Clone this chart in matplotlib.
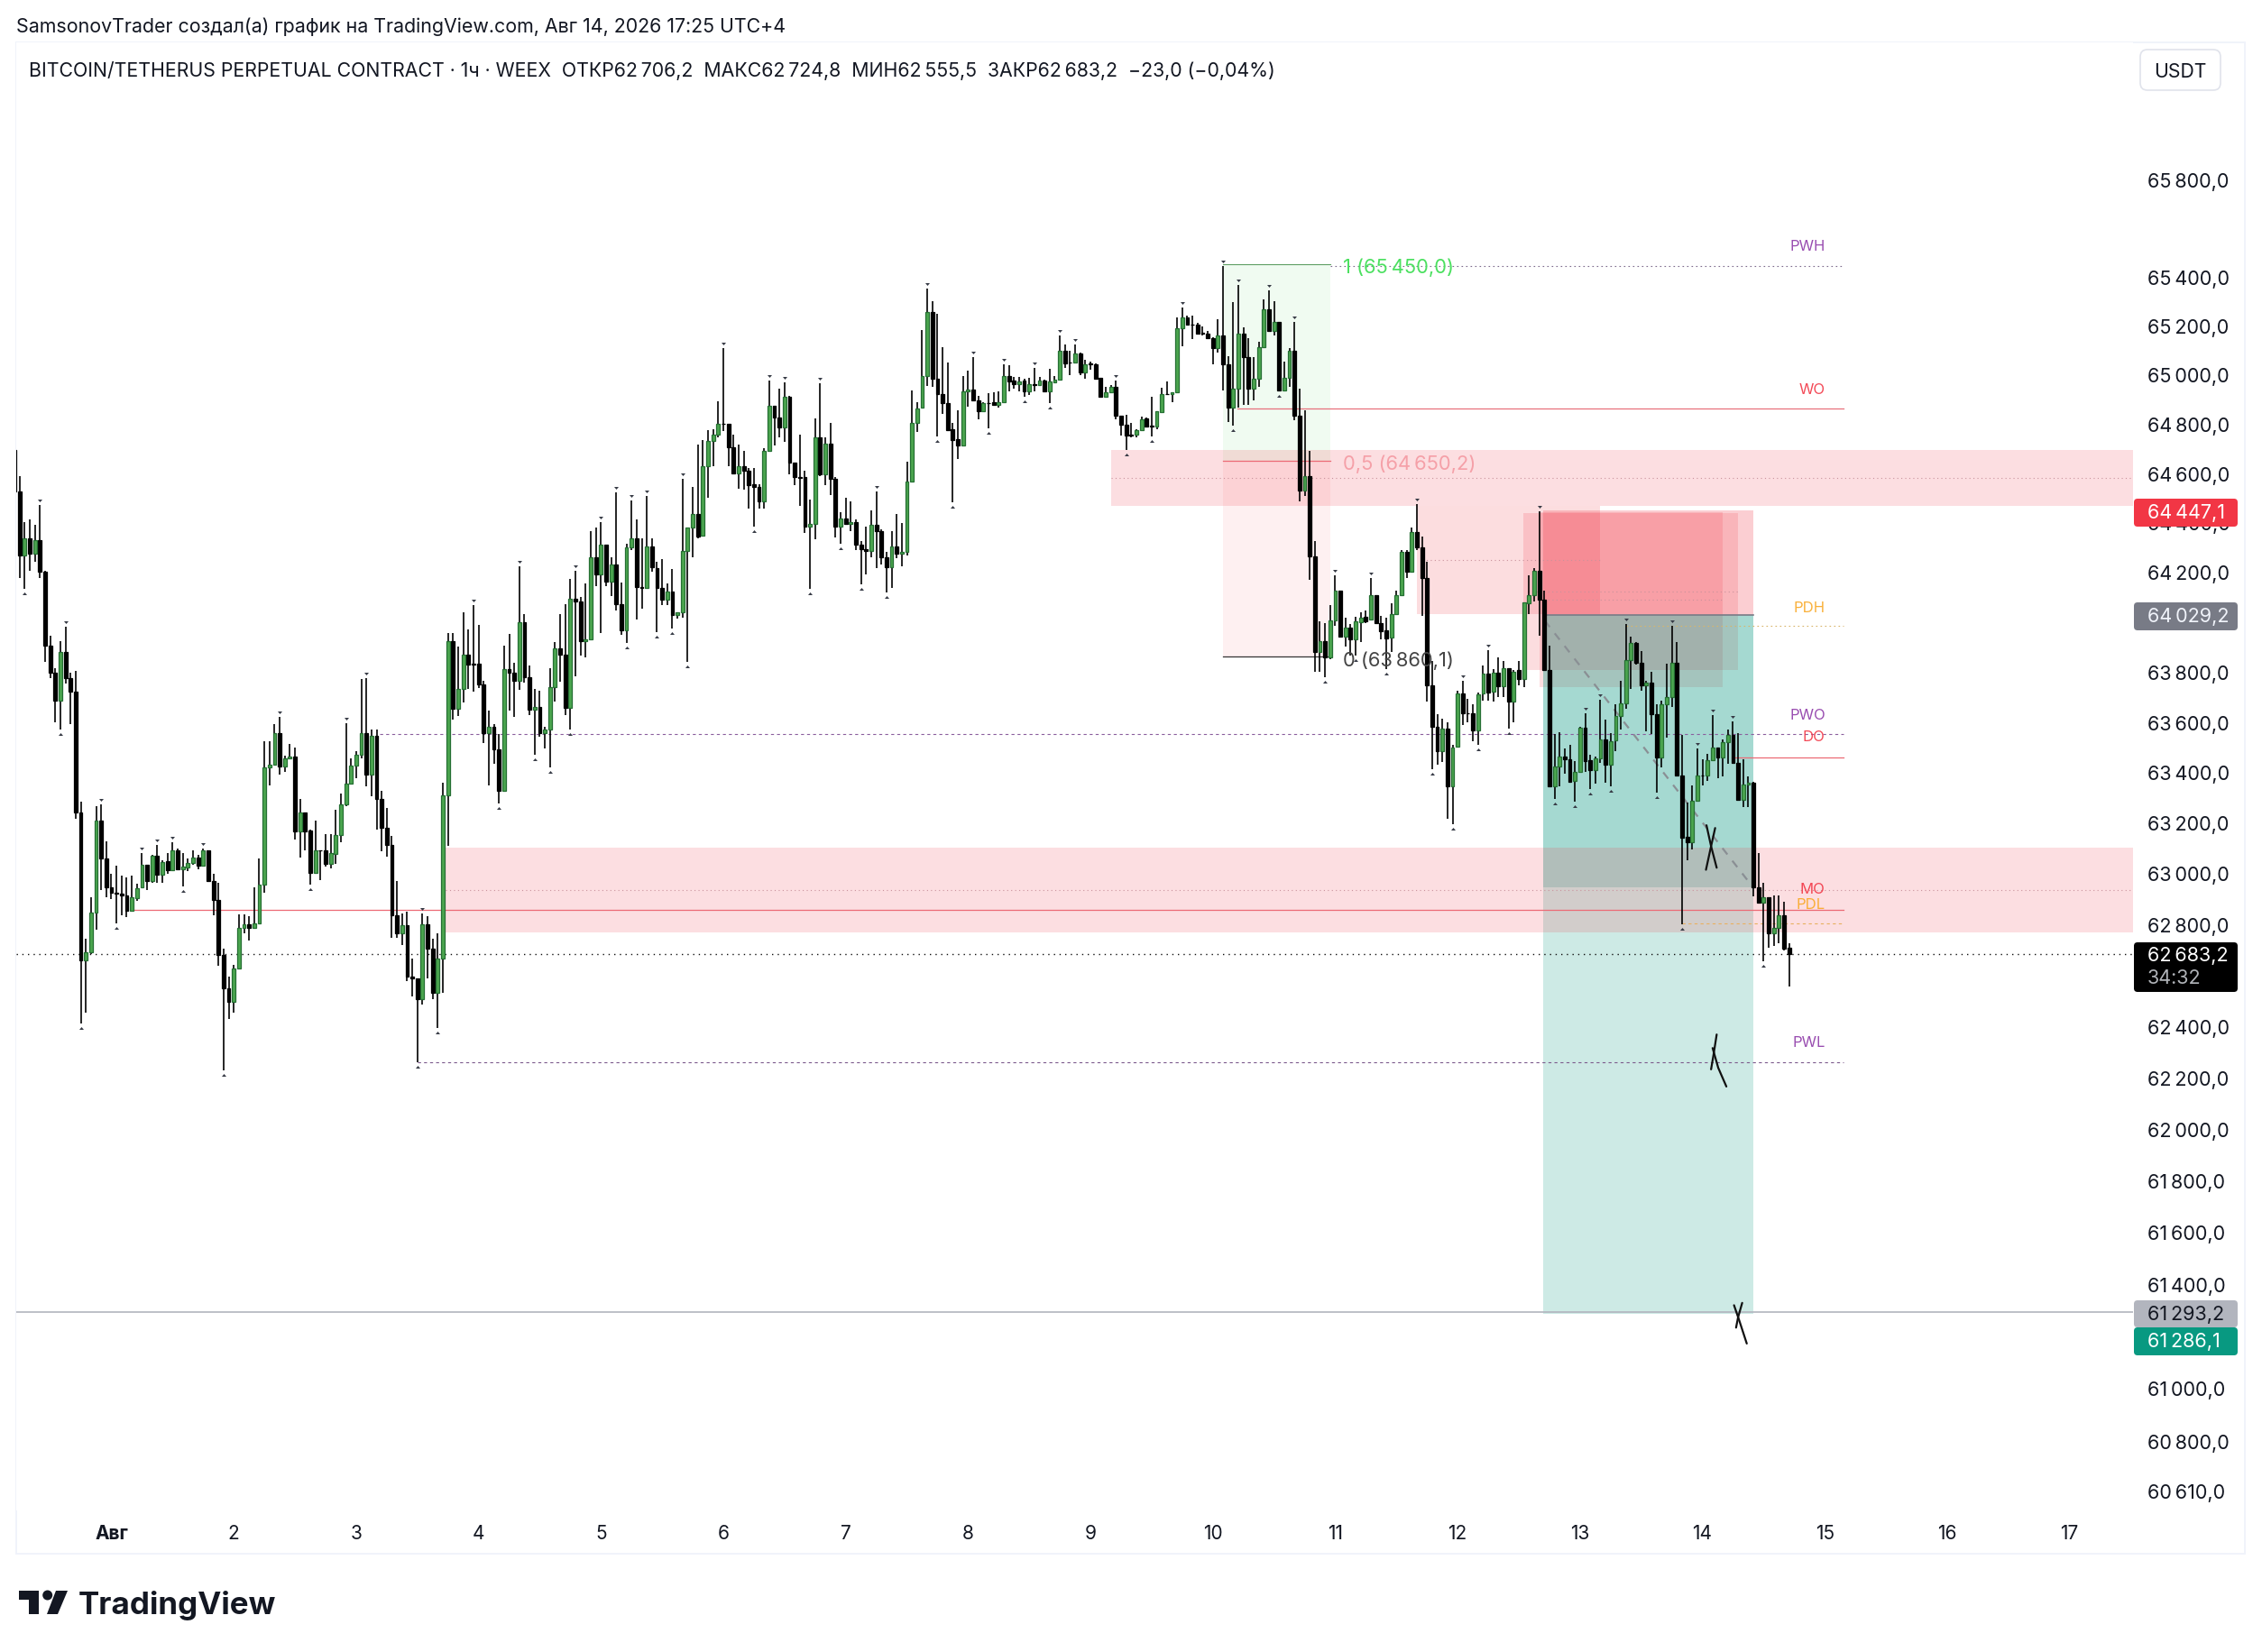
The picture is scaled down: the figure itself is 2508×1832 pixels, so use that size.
import matplotlib
matplotlib.use("Agg")
import matplotlib.pyplot as plt
from matplotlib.patches import Rectangle, FancyBboxPatch, Polygon, Circle
from matplotlib.ticker import NullLocator, NullFormatter
from matplotlib.transforms import offset_copy, IdentityTransform
from matplotlib.path import Path
import math

plt.rcParams['font.family'] = ['Inter', 'DejaVu Sans']

W, H = 2508, 1833

# ---------- data: hourly candles, first candle is hour -19 relative to Aug 1 00:00 ----------
first_hour = -19
directions = ("BBGBGBBBBGBBBBGGGBB"
    "BBBBGGGBGBGBGBGGGBGBBBBB" "GGGBGGGGGBGGBGBBGBBGGGGG" "GGBGBBBBBGBBBGBBGGGBGGBB"
    "BBGBBGBBGBBGBGGGBBGBBGGB" "GBGBBGGBBGBBBGBGGGGBGGGG" "BBBGBBBBGGBBGBBBBGGBGBBG"
    "BGBBBGBBBGBGGGGGGBBBBBBG" "GBBGBBGGBBGBGBGBGGGBBGBG" "BBBGGBBBBGGBBGGBGGGBBBBB"
    "BGBBGGBBGGGBGBGGBBGBBGBG" "GBGBGGBGBBBGGGBGBBBBBGBG" "GBBBGGBGBGBGBGGGBBBGGBBG"
    "GBBGGBGGGGGBBGBBGGGBBBGG" "BGGBGGBBGGBBGBGGBB")
highs = [
 64695,64589,64402,64413,64391,64472,64207,63944,63814,63922,63980,63797,63803,63285,62743,62906,63264,63274,63125,
 62998,63030,62991,62985,62991,62960,63081,63034,63072,63113,63051,63081,63123,63098,63081,63059,63091,63072,63098,63091,62998,62964,62704,62592,
 62641,62838,62838,62832,62943,63059,63522,63522,63591,63619,63466,63511,63500,63295,63242,63172,63208,63091,63155,63155,63251,63317,63596,63455,
 63483,63771,63775,63570,63570,63325,63257,63147,62970,62843,62847,62666,62588,62843,62832,62743,62764,63360,63954,63954,63900,64039,63970,64067,
 63987,63764,63645,63591,63552,63905,63953,63836,64225,64030,63825,63732,63725,63580,63814,63920,64030,64073,64173,64207,64099,64153,64365,64380,
 64402,64309,64261,64523,64160,64316,64490,64413,64337,64508,64337,64240,64251,64153,64214,64039,64578,64380,64545,64714,64732,64772,64776,64890,
 65106,64800,64754,64714,64688,64622,64622,64556,64699,64974,64873,64941,64967,64912,64642,64754,64611,64494,64820,64963,64743,64802,64583,64442,
 64501,64486,64413,64326,64385,64450,64527,64374,64283,64365,64435,64398,64644,64934,64886,65183,65351,65299,65246,65110,65047,64802,64854,64995,
 65015,65071,64914,64886,64924,64928,64931,65043,65036,64991,64991,64981,64987,65026,64991,64980,65022,64995,65159,65121,65096,65124,65090,65061,
 65054,65044,64987,64949,64956,64977,64834,64837,64802,64777,64830,64826,64910,64851,64945,64973,64927,65233,65275,65239,65239,65211,65197,65177,
 65152,65226,65442,65075,65296,65366,65191,65149,65072,65135,65306,65345,65299,65215,65054,65106,65215,64942,64854,64690,64326,64001,63997,64067,
 64186,64124,64018,63990,64021,64039,64046,64175,64108,64025,64017,64075,64127,64289,64290,64380,64475,64345,64241,63843,63630,63614,63598,63508,
 63725,63764,63693,63669,63717,63827,63887,63811,63859,63843,63816,63808,63844,64077,64188,64218,64444,64126,63905,63553,63560,63494,63508,63443,
 63580,63635,63471,63464,63690,63611,63557,63670,63763,63992,63940,63919,63885,63766,63800,63670,63686,63834,63985,63920,63549,63279,63347,63495,
 63450,63474,63628,63498,63532,63569,63601,63557,63453,63382,63361,63080,62963,62905,62913,62911,62888,62724.8]
body_tops = [
 64695,64527,64337,64337,64328,64328,64203,63905,63797,63881,63881,63775,63721,63240,62690,62845,63208,63208,63059,
 62943,62923,62919,62913,62904,62940,63034,63034,63070,63070,63045,63047,63091,63091,63025,63042,63062,63062,63091,63091,62970,62896,62679,62549,
 62624,62785,62798,62798,62802,62955,63418,63429,63554,63554,63455,63463,63463,63242,63242,63170,63091,63091,63091,63079,63151,63272,63356,63425,
 63470,63554,63554,63544,63544,63293,63179,63113,62836,62796,62796,62592,62588,62800,62800,62704,62664,63310,63922,63922,63732,63868,63868,63833,
 63833,63751,63580,63580,63492,63812,63812,63797,64000,64000,63779,63660,63660,63570,63738,63894,63894,63868,64093,64093,64082,63931,64261,64261,
 64309,64309,64229,64229,64071,64298,64335,64335,64140,64303,64303,64218,64136,64121,64121,64039,64287,64378,64435,64435,64626,64730,64754,64798,
 64800,64798,64703,64626,64626,64611,64554,64545,64688,64873,64873,64824,64908,64910,64642,64583,64583,64395,64743,64743,64719,64719,64578,64417,
 64417,64402,64402,64309,64292,64389,64389,64365,64259,64303,64303,64283,64567,64802,64862,64992,65256,65256,64981,64922,64882,64777,64736,64931,
 64938,64938,64893,64882,64885,64886,64886,64995,64995,64974,64973,64974,64959,64959,64977,64977,64970,64980,65095,65095,65050,65085,65085,65043,
 65044,65043,64985,64928,64948,64948,64834,64795,64754,64775,64819,64822,64791,64850,64922,64922,64927,65190,65233,65233,65205,65202,65169,65165,
 65149,65160,65160,65043,64941,65167,65167,65072,64981,65111,65267,65267,65215,65215,64985,65095,65095,64834,64589,64589,64264,63923,63924,64007,
 64124,64124,63976,63979,64001,64018,64021,64108,64108,63996,63965,64033,64108,64282,64282,64360,64360,64301,64175,63745,63581,63573,63573,63500,
 63715,63715,63636,63634,63712,63792,63792,63796,63796,63815,63815,63802,63809,64077,64108,64204,64206,64090,63808,63423,63463,63464,63453,63401,
 63578,63578,63447,63457,63531,63531,63524,63624,63675,63846,63915,63915,63837,63757,63757,63633,63670,63700,63837,63837,63388,63143,63287,63387,
 63388,63447,63498,63498,63521,63548,63549,63438,63350,63360,63360,62943,62905,62905,62785,62836,62836,62706.2]
body_bots = [
 64527,64266,64266,64274,64274,64201,63905,63797,63686,63686,63775,63721,63240,62658,62658,62690,62845,63059,62943,
 62923,62919,62913,62853,62853,62902,62943,62970,62970,62996,62996,63013,63013,63017,63017,63023,63042,63030,63030,62970,62896,62679,62549,62494,
 62494,62626,62785,62785,62785,62802,62955,63418,63429,63423,63423,63455,63166,63166,63166,63002,63002,63089,63038,63038,63077,63151,63272,63356,
 63427,63470,63390,63390,63293,63179,63113,62836,62762,62762,62592,62588,62505,62505,62704,62530,62530,62666,63310,63654,63654,63732,63829,63831,
 63749,63557,63557,63492,63328,63328,63797,63764,63764,63779,63650,63650,63557,63557,63570,63738,63870,63656,63656,64082,63924,63924,63931,64190,
 64190,64162,64162,64071,63967,63967,64298,64140,64138,64136,64220,64136,64088,64088,64028,64028,64039,64287,64378,64344,64348,64626,64730,64754,
 64798,64703,64600,64600,64609,64552,64543,64486,64486,64688,64824,64783,64783,64642,64583,64580,64385,64385,64395,64596,64596,64576,64383,64383,
 64395,64395,64309,64292,64287,64285,64365,64259,64220,64220,64274,64274,64281,64567,64802,64864,64992,64981,64921,64882,64775,64735,64710,64710,
 64931,64893,64852,64851,64883,64878,64878,64886,64973,64962,64962,64931,64932,64957,64956,64931,64931,64969,64980,65046,65047,65050,65008,65008,
 65043,64984,64911,64911,64927,64834,64794,64753,64753,64756,64775,64788,64789,64789,64848,64920,64920,64927,65190,65205,65204,65166,65166,65148,
 65107,65107,65043,64864,64864,64941,65072,64942,64942,64981,65111,65176,65176,64935,64936,64985,64834,64530,64530,64263,63878,63878,63857,63857,
 64007,63941,63941,63930,63930,64000,64001,64009,63996,63962,63935,63938,64033,64108,64203,64203,64301,64175,63745,63581,63483,63483,63345,63345,
 63502,63634,63634,63567,63565,63713,63717,63720,63743,63743,63682,63682,63771,63771,64075,64108,64089,63807,63343,63343,63423,63450,63361,63364,
 63402,63445,63409,63409,63457,63432,63432,63526,63624,63675,63848,63837,63746,63746,63631,63460,63460,63671,63700,63387,63142,63121,63121,63287,
 63387,63387,63447,63460,63460,63521,63438,63291,63291,63350,62943,62885,62885,62765,62765,62785,62703,62683.2]
lows = [
 64527,64175,64132,64207,64240,64175,63840,63775,63598,63570,63753,63591,63215,62411,62454,62683,62779,62934,62906,
 62900,62804,62836,62826,62853,62892,62943,62934,62964,62964,62964,62998,63013,63013,62949,63008,63034,63017,63030,62970,62836,62636,62226,62428,
 62454,62626,62762,62736,62785,62802,62923,63347,63429,63390,63401,63455,63134,63062,63091,62955,63002,62974,63028,63019,63038,63123,63264,63356,
 63375,63457,63343,63304,63172,63087,63066,62747,62747,62719,62577,62517,62258,62484,62588,62505,62392,62530,63108,63608,63624,63678,63732,63721,
 63736,63516,63349,63433,63278,63328,63645,63619,63727,63758,63628,63468,63541,63494,63418,63682,63760,63628,63570,63781,63866,63857,63931,64143,
 63957,64143,64104,64045,63948,63916,64290,64011,64052,64132,64203,63959,64067,64067,63974,64013,64017,63840,64261,64337,64348,64501,64629,64743,
 64769,64629,64596,64538,64534,64457,64385,64457,64457,64688,64710,64743,64728,64596,64550,64468,64359,64132,64331,64589,64552,64512,64341,64316,
 64395,64367,64290,64151,64192,64261,64216,64229,64117,64136,64255,64225,64266,64567,64765,64864,64953,64949,64749,64841,64774,64480,64655,64710,
 64869,64892,64816,64847,64781,64875,64864,64883,64931,64942,64931,64910,64917,64931,64953,64928,64882,64964,64980,65026,64998,65050,64998,64984,
 65019,64981,64910,64906,64925,64819,64752,64693,64746,64746,64774,64787,64749,64777,64848,64920,64886,64925,65116,65201,65145,65163,65158,65144,
 65043,65090,64935,64806,64791,64865,64875,64875,64893,64949,65110,65173,65159,64931,64936,64949,64813,64486,64508,64169,63801,63801,63777,63850,
 63983,63941,63902,63864,63864,63920,63997,64009,63993,63930,63811,63878,64033,64108,64175,64203,64289,64025,63682,63413,63432,63440,63214,63195,
 63502,63587,63598,63524,63508,63685,63685,63682,63701,63698,63574,63598,63748,63738,64033,64081,63944,63807,63340,63293,63343,63395,63357,63283,
 63402,63402,63334,63354,63439,63357,63343,63484,63571,63653,63731,63831,63724,63563,63553,63320,63420,63537,63659,63387,62799,63053,63094,63287,
 63347,63365,63447,63375,63382,63434,63437,63286,63261,63261,62909,62885,62655,62706,62713,62724,62696,62555.5]
assert len(directions) == len(highs) == len(body_tops) == len(body_bots) == len(lows), (len(directions), len(highs), len(body_tops), len(body_bots), len(lows))

pivot_high_hours = [-14,-9,-2,6,9,12,18,33,46,50,61,71,80,91,96,99,102,105,112,120,129,132,139,150,
                    160,169,175,181,186,189,197,210,218,221,227,232,240,247,256,265,270,280,289,292,297,306,311,314,318]
pivot_low_hours = [-17,-10,-6,1,14,22,39,60,64,76,83,86,90,101,107,110,113,126,137,143,147,152,
                   162,165,172,179,184,199,204,220,229,238,244,250,259,263,268,274,283,287,290,294,303,308,324]

price_ticks = [65800,65400,65200,65000,64800,64600,64400,64200,63800,63600,63400,63200,63000,62800,
               62400,62200,62000,61800,61600,61400,61000,60800,60610]
day_ticks = [0,24,48,72,96,120,144,168,192,216,240,264,288,312,336,360,384]
day_labels = ["Авг","2","3","4","5","6","7","8","9","10","11","12","13","14","15","16","17"]

last_price = 62683.2
entry_price, stop_price, target_price = 64029.2, 64447.1, 61286.1
grey_line_price = 61293.2
fib_levels = [65450.0, 64650.2, 63860.1]
fib_texts = ["1 (65\u2009450,0)", "0,5 (64\u2009650,2)", "0 (63\u2009860,1)"]

# (hour start, top price, bottom price)
fvg_upper = (196, 64694, 64466)
fvg_lower = (65.5, 63102, 62766)
# (hour start, hour end, top price, bottom price)
pink_blocks = [(256, 291.9, 64467, 64033), (276.8, 319, 64437, 63807), (280, 316, 64440, 63738)]
pos_start, pos_end = 280.8, 322
fib_start, fib_end = 218, 239
pnl_end_price = 62943

level_end = 339.6
pwh = 65442; wo = 64861; pdh = 63985; pwo = 63553; do_ = 63460; mo = 62856; pdl = 62804; pwl = 62260
label_hour = 336.1
labels = ["PWH","WO","PDH","PWO","DO","MO","PDL","PWL"]
label_prices = [65536,64950,64071,63642,63553,62950,62891,62350]

stroke_a_hours = [312.8,313.7,314.8]; stroke_a_prices = [63190,63107,63022]
stroke_b_hours = [314.5,313.7,312.7]; stroke_b_prices = [63179,63107,63014]
stroke_c_hours = [314.8,314.2,313.7]; stroke_c_prices = [62367,62290,62231]
stroke_d_hours = [314.0,315.1,316.7]; stroke_d_prices = [62314,62237,62164]
stroke_e_hours = [318.2,319.2,320.7]; stroke_e_prices = [61318,61261,61171]
stroke_f_hours = [319.8,319.0,318.6]; stroke_f_prices = [61327,61272,61232]

# ---------- colours ----------
RED = '#F23645'; TEAL = '#089981'; ORANGE = '#F9A825'; PURPLE = '#8E3AA8'
GREEN_FILL = '#4BA54F'; GREEN_EDGE = '#256F33'

fig = plt.figure(figsize=(W/100, H/100), dpi=100, facecolor='white')
AX_L, AX_R, AX_T, AX_B = 18, 2365, 48, 1676
ax = fig.add_axes([AX_L/W, 1-AX_B/H, (AX_R-AX_L)/W, (AX_B-AX_T)/H])
ax.set_yscale('log')
def hour_of(px): return (px-123.5)/5.654
def price_of(py): return 65400*math.exp((307.7-py)/17700)
ax.set_xlim(hour_of(AX_L), hour_of(AX_R))
ax.set_ylim(price_of(AX_B), price_of(AX_T))
ax.yaxis.set_minor_locator(NullLocator()); ax.yaxis.set_minor_formatter(NullFormatter())
for s in ax.spines.values(): s.set_visible(False)

def zone(x0, x1, top, bot, color, alpha, z=1.0):
    ax.add_patch(Rectangle((x0, bot), x1-x0, top-bot, fc=color, ec='none', alpha=alpha, zorder=z))
xmin, xmax = ax.get_xlim()

# fib
zone(fib_start, fib_end, fib_levels[0], fib_levels[1], '#2ECC40', 0.07, 0.8)
zone(fib_start, fib_end, fib_levels[1], fib_levels[2], RED, 0.07, 0.8)
# pink blocks under the position
for x0, x1, top, bot in pink_blocks:
    zone(x0, x1, top, bot, RED, 0.17, 1.0)
    ax.plot([x0+1, x1], [(top+bot)/2]*2, color='#C9929C', lw=0.8, ls=(0,(1,3)), zorder=1.5)
# position
zone(pos_start, pos_end, stop_price, entry_price, RED, 0.24, 1.1)
zone(pos_start, pos_end, entry_price, target_price, TEAL, 0.20, 1.1)
zone(pos_start, pos_end, entry_price, pnl_end_price, TEAL, 0.20, 1.1)
# big zones over the position
for st, top, bot in (fvg_upper, fvg_lower):
    zone(st, xmax, top, bot, RED, 0.16, 1.2)
    ax.plot([st, xmax], [(top+bot)/2]*2, color='#C9929C', lw=0.8, ls=(0,(1,3)), zorder=1.5)
ax.plot([pos_start, pos_end], [entry_price]*2, color='#787B86', lw=1.2, zorder=1.6)
ax.plot([pos_start+0.3, pos_end], [64005, pnl_end_price], color='#8A8F94', lw=1.6, ls=(0,(4,4)), zorder=1.6)
# fib lines
ax.plot([fib_start, fib_end], [fib_levels[0]]*2, color='#5E9E62', lw=0.8, zorder=1.7)
ax.plot([fib_start, fib_end], [fib_levels[1]]*2, color='#EC6A75', lw=0.9, zorder=1.7)
ax.plot([fib_start, fib_end], [fib_levels[2]]*2, color='#333333', lw=0.9, zorder=1.7)
# key levels
dot = (0,(1.5,3))
ax.plot([fib_end, level_end], [pwh]*2, color='#7C6A8C', lw=0.8, ls=dot, zorder=1.8)
ax.plot([220.8, level_end], [wo]*2, color='#E8707C', lw=0.9, zorder=1.8)
ax.plot([297, level_end], [pdh]*2, color='#D9B56A', lw=0.8, ls=dot, zorder=1.8)
ax.plot([52.7, level_end], [pwo]*2, color='#8B5E9E', lw=0.8, ls=(0,(3,3)), zorder=1.8)
ax.plot([317.8, level_end], [do_]*2, color='#EC6A75', lw=0.9, zorder=1.8)
ax.plot([4, level_end], [mo]*2, color='#EC6A75', lw=0.9, zorder=1.8)
ax.plot([308, level_end], [pdl]*2, color='#E8B060', lw=0.8, ls=(0,(3,3)), zorder=1.8)
ax.plot([60, level_end], [pwl]*2, color='#7C5A8C', lw=0.8, ls=(0,(3,3)), zorder=1.8)
ax.plot([xmin, xmax], [grey_line_price]*2, color='#B2B5BE', lw=1.2, zorder=1.8)
ax.plot([xmin, xmax], [last_price]*2, color='#111111', lw=1.0, ls=(0,(1,3.5)), zorder=1.9)

# candles
hours = [first_hour+i for i in range(len(highs))]
ax.vlines(hours, lows, highs, color='#000000', lw=1.2, zorder=3)
ups = [d == 'G' for d in directions]
for flag, fc, ec in ((False,'#000000','#000000'), (True,GREEN_FILL,GREEN_EDGE)):
    xs = [h for h,u in zip(hours,ups) if u==flag]
    bt = [v for v,u in zip(body_tops,ups) if u==flag]
    bb = [v for v,u in zip(body_bots,ups) if u==flag]
    ax.bar(xs, [t-b for t,b in zip(bt,bb)], bottom=bb, width=0.68, color=fc, edgecolor=ec, lw=0.9, zorder=3.2)

# pivot markers
tri_down = Path([(-1,0.6),(1,0.6),(0,-0.6),(-1,0.6)])
tri_up = Path([(-1,-0.6),(1,-0.6),(0,0.6),(-1,-0.6)])
tr_u = offset_copy(ax.transData, fig=fig, y=5, units='dots')
tr_d = offset_copy(ax.transData, fig=fig, y=-5, units='dots')
hmap = dict(zip(hours, highs)); lmap = dict(zip(hours, lows))
ax.plot(pivot_high_hours, [hmap[h] for h in pivot_high_hours], ls='none', marker=tri_down, ms=3.6, mfc='#363A45', mec='none', transform=tr_u, zorder=3.4)
ax.plot(pivot_low_hours, [lmap[h] for h in pivot_low_hours], ls='none', marker=tri_up, ms=3.6, mfc='#363A45', mec='none', transform=tr_d, zorder=3.4)

# hand strokes
for xs, ys in ((stroke_a_hours,stroke_a_prices),(stroke_b_hours,stroke_b_prices),(stroke_c_hours,stroke_c_prices),
               (stroke_d_hours,stroke_d_prices),(stroke_e_hours,stroke_e_prices),(stroke_f_hours,stroke_f_prices)):
    ax.plot(xs, ys, color='#111111', lw=1.6, zorder=4, solid_capstyle='round')

# level labels
tr_text = offset_copy(ax.transData, fig=fig, y=-3, units='dots')
lab_cols = [PURPLE, RED, ORANGE, PURPLE, RED, RED, ORANGE, PURPLE]
for t, p, c in zip(labels, label_prices, lab_cols):
    ax.text(label_hour, p, t, color=c, fontsize=12, ha='right', va='center', zorder=5, alpha=0.9, transform=tr_text)
# fib labels
for t, p, c in zip(fib_texts, fib_levels, ['#4CE060','#F5A0A8','#444444']):
    ax.text(hour_of(1489), p, t, color=c, fontsize=15.8, ha='left', va='center', zorder=5, transform=tr_text)

# axes ticks
ax.yaxis.tick_right()
ax.set_yticks(price_ticks)
ax.set_yticklabels([f"{p//1000}\u2009{p%1000:03d},0" for p in price_ticks])
ax.tick_params(axis='y', length=0, pad=11.5, labelsize=15.5, labelcolor='#131722')
ax.set_xticks(day_ticks); ax.set_xticklabels(day_labels)
ax.tick_params(axis='x', length=0, pad=11, labelsize=15, labelcolor='#131722')
ax.get_xticklabels()[0].set_fontweight('bold')

# figure level, pixel layout
def fx(x): return x/W
def fy(y): return 1-y/H
identity = IdentityTransform()
def px_patch(x0, y0, x1, y1, fc, ec='none', lw=0, r=4, z=6):
    p = FancyBboxPatch((x0, H-y1), x1-x0, y1-y0, boxstyle=f"round,pad=0,rounding_size={r}",
                       fc=fc, ec=ec, lw=lw, transform=identity, zorder=z)
    fig.add_artist(p); return p

fig.add_artist(Rectangle((fx(18), fy(1724)), (2489-18)/W, (1724-48)/H, fill=False, ec='#F0F3FA', lw=1.4,
                         transform=fig.transFigure, zorder=-1))
fig.text(fx(18), fy(29.5), "SamsonovTrader создал(а) график на TradingView.com, Авг 14, 2026 17:25 UTC+4",
         fontsize=15.4, color='#131722', va='center', ha='left')
fig.text(fx(32), fy(78.5), "BITCOIN/TETHERUS PERPETUAL CONTRACT · 1ч · WEEX  ОТКР62\u2009706,2  МАКС62\u2009724,8  МИН62\u2009555,5  ЗАКР62\u2009683,2  −23,0 (−0,04%)",
         fontsize=15.33, color='#131722', va='center', ha='left')
px_patch(2373, 56, 2462, 101, 'white', ec='#E0E3EB', lw=1.2, r=8, z=2)
fig.text(fx(2417), fy(80), "USDT", fontsize=15.3, color='#131722', va='center', ha='center')

badge_x0, badge_x1, text_x = 2366, 2481, 2381
badges = [(554,585,RED,'white',"64\u2009447,1"), (669,700,'#787B86','#F0F3FA',"64\u2009029,2"),
          (1443,1473,'#B2B5BE','#131722',"61\u2009293,2"), (1473,1504,TEAL,'white',"61\u2009286,1")]
for y0,y1,fc,tc,t in badges:
    px_patch(badge_x0,y0,badge_x1,y1,fc)
    fig.text(fx(text_x), fy((y0+y1)/2), t, fontsize=15.5, color=tc, va='center', ha='left', zorder=7)
px_patch(badge_x0,1046,badge_x1,1101,'#000000')
fig.text(fx(text_x), fy(1060), "62\u2009683,2", fontsize=15.5, color='white', va='center', ha='left', zorder=7)
fig.text(fx(text_x), fy(1085), "34:32", fontsize=15.5, color='#B0B3B8', va='center', ha='left', zorder=7)

# logo
logo = '#131722'
fig.add_artist(Polygon([(fx(21),fy(1765)),(fx(42.5),fy(1765)),(fx(42.5),fy(1791)),(fx(32),fy(1791)),(fx(32),fy(1775)),(fx(21),fy(1775))],
                       closed=True, fc=logo, ec='none', transform=fig.transFigure))
fig.add_artist(Polygon([(fx(62),fy(1765)),(fx(75),fy(1765)),(fx(64),fy(1791)),(fx(52),fy(1791))],
                       closed=True, fc=logo, ec='none', transform=fig.transFigure))
fig.add_artist(Circle((52.7, H-1770), 5.5, fc=logo, ec='none', transform=identity))
fig.text(fx(87), fy(1781), "TradingView", fontsize=25.2, fontweight='bold', color=logo, va='center', ha='left')

fig.savefig('out.png', dpi=100, facecolor='white')
